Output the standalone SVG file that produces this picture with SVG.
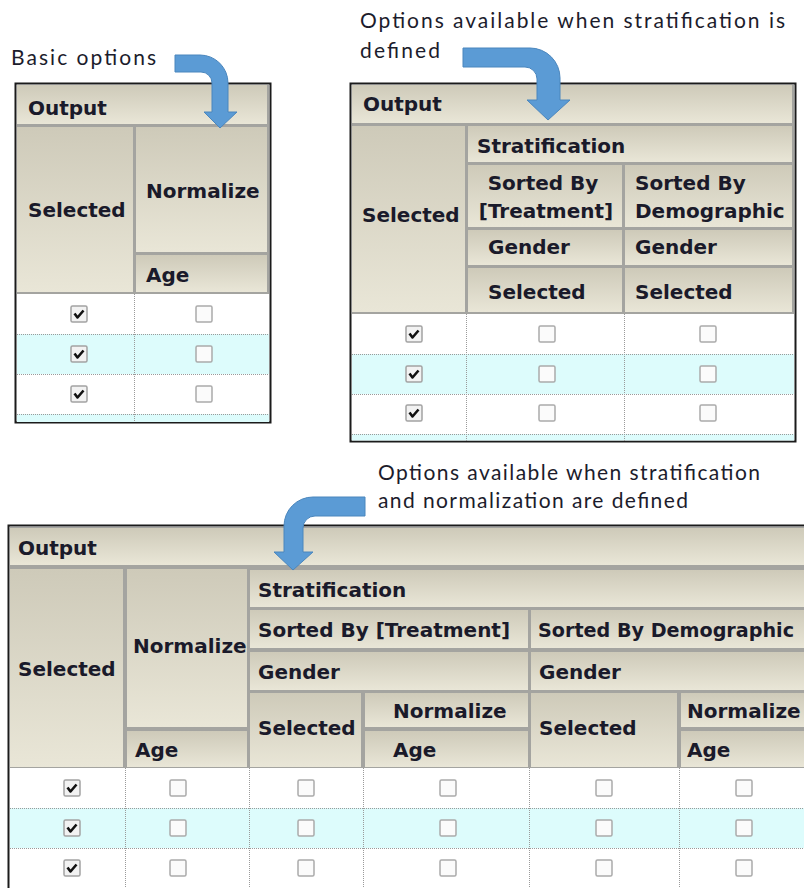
<svg xmlns="http://www.w3.org/2000/svg" xmlns:xlink="http://www.w3.org/1999/xlink" width="804" height="888" viewBox="0 0 804 888">
<defs>
<linearGradient id="hg" x1="0" y1="0" x2="0" y2="1">
<stop offset="0" stop-color="#cecab9"/>
<stop offset="1" stop-color="#e9e6d7"/>
</linearGradient>
<g id="cb"><rect x="-8" y="-8" width="16" height="16" rx="1.5" fill="#fbfbfb" stroke="#ababab" stroke-width="1.5"/></g>
<g id="cbc"><rect x="-8" y="-8" width="16" height="16" rx="1.5" fill="#f2f2f2" stroke="#a3a3a3" stroke-width="1.5"/><path d="M-4.5,-0.5 L-1.5,3.5 L4.5,-3.5" fill="none" stroke="#111" stroke-width="2.6" stroke-linejoin="round"/></g>
</defs>
<style>
.h{font-family:"DejaVu Sans",sans-serif;font-weight:bold;font-size:20px;fill:#1a1a2a}
.lbl{font-family:Lato,"Liberation Sans",sans-serif;font-size:21px;fill:#1c1c2c}
.cell{fill:url(#hg)}
.hbg{fill:#a4a4a0}
.frame{fill:#fff;stroke:#1b1b1b;stroke-width:2}
.even{fill:#ffffff}
.odd{fill:#ddfcfc}
.dot{stroke:#9a9a9a;stroke-width:1;stroke-dasharray:1 1;fill:none}
.arrow{fill:#5b9bd5;stroke:#4a86bd;stroke-width:1}
</style>
<rect width="804" height="888" fill="#fff"/>

<g id="label-basic"><text class="lbl" x="11" y="65" textLength="145">Basic options</text></g>
<g id="label-strat"><text class="lbl" x="360" y="28" textLength="425">Options available when stratification is</text><text class="lbl" x="360" y="58" textLength="80">defined</text></g>
<g id="label-strat-norm"><text class="lbl" x="378" y="480" textLength="382">Options available when stratification</text><text class="lbl" x="378" y="508" textLength="310">and normalization are defined</text></g>

<g id="table-basic">
<rect class="frame" x="15.5" y="83.5" width="255" height="339"/>
<rect class="hbg" x="17" y="85" width="252" height="209"/>
<rect class="cell" x="17" y="85" width="250" height="39"/>
<rect class="cell" x="17" y="127" width="116" height="165"/>
<rect class="cell" x="136" y="127" width="131" height="125"/>
<rect class="cell" x="136" y="255" width="131" height="37"/>
<text class="h" x="28" y="115">Output</text>
<text class="h" x="28" y="217">Selected</text>
<text class="h" x="146" y="198">Normalize</text>
<text class="h" x="146" y="282">Age</text>
<rect class="even" x="17" y="294" width="252" height="40"/>
<rect class="odd" x="17" y="334" width="252" height="40"/>
<rect class="even" x="17" y="374" width="252" height="40"/>
<rect class="odd" x="17" y="414" width="252" height="8"/>
<path class="dot" d="M17,334.5H269M17,374.5H269M17,414.5H269M134.5,294V422"/>
<use xlink:href="#cbc" x="79" y="314"/><use xlink:href="#cb" x="204" y="314"/>
<use xlink:href="#cbc" x="79" y="354"/><use xlink:href="#cb" x="204" y="354"/>
<use xlink:href="#cbc" x="79" y="394"/><use xlink:href="#cb" x="204" y="394"/>
</g>

<g id="table-strat">
<rect class="frame" x="350.5" y="83.5" width="445" height="358"/>
<rect class="hbg" x="352" y="85" width="442" height="229"/>
<rect class="cell" x="352" y="85" width="440" height="38"/>
<rect class="cell" x="352" y="126" width="113" height="186"/>
<rect class="cell" x="468" y="126" width="324" height="36"/>
<rect class="cell" x="468" y="165" width="154" height="62"/>
<rect class="cell" x="625" y="165" width="167" height="62"/>
<rect class="cell" x="468" y="230" width="154" height="35"/>
<rect class="cell" x="625" y="230" width="167" height="35"/>
<rect class="cell" x="468" y="268" width="154" height="44"/>
<rect class="cell" x="625" y="268" width="167" height="44"/>
<text class="h" x="363" y="111">Output</text>
<text class="h" x="362" y="222">Selected</text>
<text class="h" x="477" y="153">Stratification</text>
<text class="h" x="543" y="190" text-anchor="middle">Sorted By</text>
<text class="h" x="546" y="218" text-anchor="middle">[Treatment]</text>
<text class="h" x="635" y="190">Sorted By</text>
<text class="h" x="635" y="218">Demographic</text>
<text class="h" x="488" y="254">Gender</text>
<text class="h" x="635" y="254">Gender</text>
<text class="h" x="488" y="299">Selected</text>
<text class="h" x="635" y="299">Selected</text>
<rect class="even" x="352" y="314" width="442" height="40"/>
<rect class="odd" x="352" y="354" width="442" height="40"/>
<rect class="even" x="352" y="394" width="442" height="40"/>
<rect class="odd" x="352" y="434" width="442" height="6.5"/>
<path class="dot" d="M352,354.5H794M352,394.5H794M352,434.5H794M466.5,314V441M624.5,314V441"/>
<use xlink:href="#cbc" x="414" y="334"/><use xlink:href="#cb" x="547" y="334"/><use xlink:href="#cb" x="708" y="334"/>
<use xlink:href="#cbc" x="414" y="374"/><use xlink:href="#cb" x="547" y="374"/><use xlink:href="#cb" x="708" y="374"/>
<use xlink:href="#cbc" x="414" y="413"/><use xlink:href="#cb" x="547" y="413"/><use xlink:href="#cb" x="708" y="413"/>
</g>

<g id="table-strat-norm">
<rect class="frame" x="8.5" y="525.5" width="830" height="400"/>
<rect class="hbg" x="10" y="527" width="794" height="241"/>
<rect class="cell" x="10" y="528" width="794" height="37"/>
<rect class="cell" x="10" y="569" width="113" height="198"/>
<rect class="cell" x="127" y="569" width="120" height="158"/>
<rect class="cell" x="127" y="731" width="120" height="36"/>
<rect class="cell" x="250" y="570" width="554" height="37"/>
<rect class="cell" x="250" y="610" width="278" height="38"/>
<rect class="cell" x="531" y="610" width="273" height="38"/>
<rect class="cell" x="250" y="652" width="278" height="38"/>
<rect class="cell" x="531" y="652" width="273" height="38"/>
<rect class="cell" x="250" y="693" width="111" height="74"/>
<rect class="cell" x="365" y="693" width="163" height="34"/>
<rect class="cell" x="365" y="731" width="163" height="36"/>
<rect class="cell" x="531" y="693" width="146" height="74"/>
<rect class="cell" x="681" y="693" width="123" height="34"/>
<rect class="cell" x="681" y="731" width="123" height="36"/>
<text class="h" x="18" y="555">Output</text>
<text class="h" x="18" y="676">Selected</text>
<text class="h" x="133" y="653">Normalize</text>
<text class="h" x="135" y="757">Age</text>
<text class="h" x="258" y="597">Stratification</text>
<text class="h" x="258" y="637">Sorted By [Treatment]</text>
<text class="h" x="538" y="637" textLength="256" lengthAdjust="spacingAndGlyphs">Sorted By Demographic</text>
<text class="h" x="258" y="679">Gender</text>
<text class="h" x="539" y="679">Gender</text>
<text class="h" x="258" y="735">Selected</text>
<text class="h" x="393" y="718">Normalize</text>
<text class="h" x="393" y="757">Age</text>
<text class="h" x="539" y="735">Selected</text>
<text class="h" x="687" y="718">Normalize</text>
<text class="h" x="687" y="757">Age</text>
<rect class="even" x="10" y="768" width="794" height="40"/>
<rect class="odd" x="10" y="808" width="794" height="40"/>
<rect class="even" x="10" y="848" width="794" height="40"/>
<path class="dot" d="M10,808.5H804M10,848.5H804M125.5,768V888M249.5,768V888M363.5,768V888M529.5,768V888M679.5,768V888"/>
<use xlink:href="#cbc" x="72" y="788"/><use xlink:href="#cb" x="178" y="788"/><use xlink:href="#cb" x="306" y="788"/><use xlink:href="#cb" x="448" y="788"/><use xlink:href="#cb" x="604" y="788"/><use xlink:href="#cb" x="744" y="788"/>
<use xlink:href="#cbc" x="72" y="828"/><use xlink:href="#cb" x="178" y="828"/><use xlink:href="#cb" x="306" y="828"/><use xlink:href="#cb" x="448" y="828"/><use xlink:href="#cb" x="604" y="828"/><use xlink:href="#cb" x="744" y="828"/>
<use xlink:href="#cbc" x="72" y="868"/><use xlink:href="#cb" x="178" y="868"/><use xlink:href="#cb" x="306" y="868"/><use xlink:href="#cb" x="448" y="868"/><use xlink:href="#cb" x="604" y="868"/><use xlink:href="#cb" x="744" y="868"/>
</g>

<g id="connectors">
<path class="arrow" d="M175,55 H200 A28,28 0 0 1 228,83 V112 H237 L220,128 L204,112 H212 V83 A11,11 0 0 0 201,72 H175 Z"/>
<path class="arrow" d="M463,48 H530 A30,30 0 0 1 560,78 V100 H570 L548,120 L527,100 H537 V79 A12,12 0 0 0 525,67 H463 Z"/>
<path class="arrow" d="M365,497 H313 A29,29 0 0 0 284,526 V552 H274 L293,570 L313,552 H303 V528 A12,12 0 0 1 315,516 H365 Z"/>
</g>
</svg>
